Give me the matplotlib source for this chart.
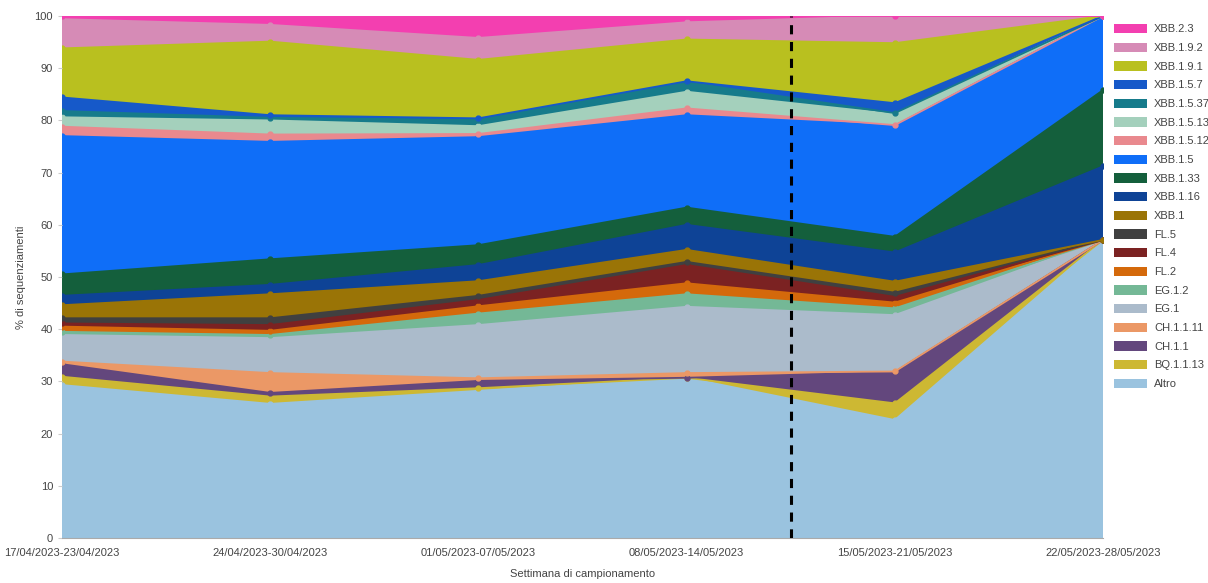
import matplotlib
matplotlib.use("Agg")
import matplotlib.pyplot as plt
import matplotlib.patches as mpatches
import numpy as np

plt.rcParams["font.family"] = ["Liberation Sans", "DejaVu Sans"]

weeks = ["17/04/2023-23/04/2023", "24/04/2023-30/04/2023", "01/05/2023-07/05/2023",
         "08/05/2023-14/05/2023", "15/05/2023-21/05/2023", "22/05/2023-28/05/2023"]

# stacking order, bottom to top
lineages = ["Altro", "BQ.1.1.13", "CH.1.1", "CH.1.1.11", "EG.1", "EG.1.2", "FL.2", "FL.4",
            "FL.5", "XBB.1", "XBB.1.16", "XBB.1.33", "XBB.1.5", "XBB.1.5.12", "XBB.1.5.13",
            "XBB.1.5.37", "XBB.1.5.7", "XBB.1.9.1", "XBB.1.9.2", "XBB.2.3"]

altro      = [29.3, 25.7, 28.2, 30.7, 22.6, 57.1]
bq_1_1_13  = [1.6, 1.4, 0.5, 0.0, 3.2, 0.0]
ch_1_1     = [2.4, 0.7, 1.4, 0.0, 6.0, 0.0]
ch_1_1_11  = [0.5, 3.8, 0.5, 0.9, 0.1, 0.0]
eg_1       = [5.1, 6.7, 10.2, 12.7, 10.8, 0.0]
eg_1_2     = [0.6, 0.6, 2.2, 2.4, 1.3, 0.0]
fl_2       = [1.0, 0.8, 1.4, 2.1, 1.1, 0.0]
fl_4       = [0.6, 1.1, 1.2, 3.5, 1.1, 0.0]
fl_5       = [1.0, 1.3, 0.8, 0.6, 0.8, 0.0]
xbb_1      = [2.5, 4.6, 2.8, 2.3, 2.1, 0.0]
xbb_1_16   = [1.8, 1.8, 3.1, 4.8, 5.6, 14.1]
xbb_1_33   = [4.1, 4.9, 3.8, 3.3, 3.0, 14.6]
xbb_1_5    = [26.5, 22.5, 20.7, 17.7, 21.3, 14.2]
xbb_1_5_12 = [1.8, 1.4, 0.6, 1.3, 0.1, 0.0]
xbb_1_5_13 = [1.8, 2.7, 1.5, 3.2, 2.1, 0.0]
xbb_1_5_37 = [1.2, 0.5, 1.2, 1.8, 0.2, 0.0]
xbb_1_5_7  = [2.6, 0.5, 0.3, 0.2, 1.9, 0.0]
xbb_1_9_1  = [9.4, 14.1, 11.2, 8.0, 11.5, 0.0]
xbb_1_9_2  = [5.6, 3.2, 4.2, 3.3, 5.2, 0.0]
xbb_2_3    = [0.6, 1.7, 4.2, 1.2, 0.0, 0.0]

series = [altro, bq_1_1_13, ch_1_1, ch_1_1_11, eg_1, eg_1_2, fl_2, fl_4, fl_5, xbb_1,
          xbb_1_16, xbb_1_33, xbb_1_5, xbb_1_5_12, xbb_1_5_13, xbb_1_5_37, xbb_1_5_7,
          xbb_1_9_1, xbb_1_9_2, xbb_2_3]

colors = ["#9ac3df", "#cdb833", "#63477d", "#eb9866", "#abbbcb", "#74b896", "#d4690b",
          "#7b2222", "#404040", "#9a7406", "#0e4396", "#145f3c", "#0f6ef8", "#e9898e",
          "#a4d0bc", "#167b8b", "#1659c9", "#b9c01f", "#d68bb6", "#f33fb0"]

x = np.arange(len(weeks))
fig = plt.figure(figsize=(12.08, 5.83), dpi=100)
ax = fig.add_axes([62 / 1208, 45 / 583, 1041 / 1208, 522 / 583])

ax.stackplot(x, *series, colors=colors, linewidth=0)
tops = np.cumsum(np.array(series), axis=0)
for top, c in zip(tops, colors):
        ax.plot(x, top, color=c, lw=1.3, marker="o", ms=3.5, zorder=3)

# separator between the last complete weeks
ax.axvline(3.5, color="black", ls=(0, (3, 2.5)), lw=2.2, zorder=5)

ax.set_xlim(0, 5)
ax.set_ylim(0, 100)
ax.set_xticks(x)
ax.set_xticklabels(weeks, fontsize=8, color="#444444")
ax.set_yticks(range(0, 101, 10))
ax.tick_params(axis="y", labelsize=8, labelcolor="#444444", color="#cccccc", length=3)
ax.tick_params(axis="x", length=0, pad=7)
for s in ["top", "right", "left"]:
        ax.spines[s].set_visible(False)
ax.spines["bottom"].set_color("#aaaaaa")
ax.set_xlabel("Settimana di campionamento", fontsize=8, color="#444444", labelpad=8)
ax.set_ylabel("% di sequenziamenti", fontsize=8, color="#444444", labelpad=6)

handles = [mpatches.Patch(facecolor=c, edgecolor="none", label=l)
           for c, l in zip(colors[::-1], lineages[::-1])]
fig.legend(handles=handles, loc="upper left", bbox_to_anchor=(1104 / 1208, 1 - 14 / 583),
           frameon=False, fontsize=8, labelspacing=0.74, handlelength=3.0,
           handleheight=0.9, handletextpad=0.6, labelcolor="#444444")

fig.savefig("out.png", dpi=100)
